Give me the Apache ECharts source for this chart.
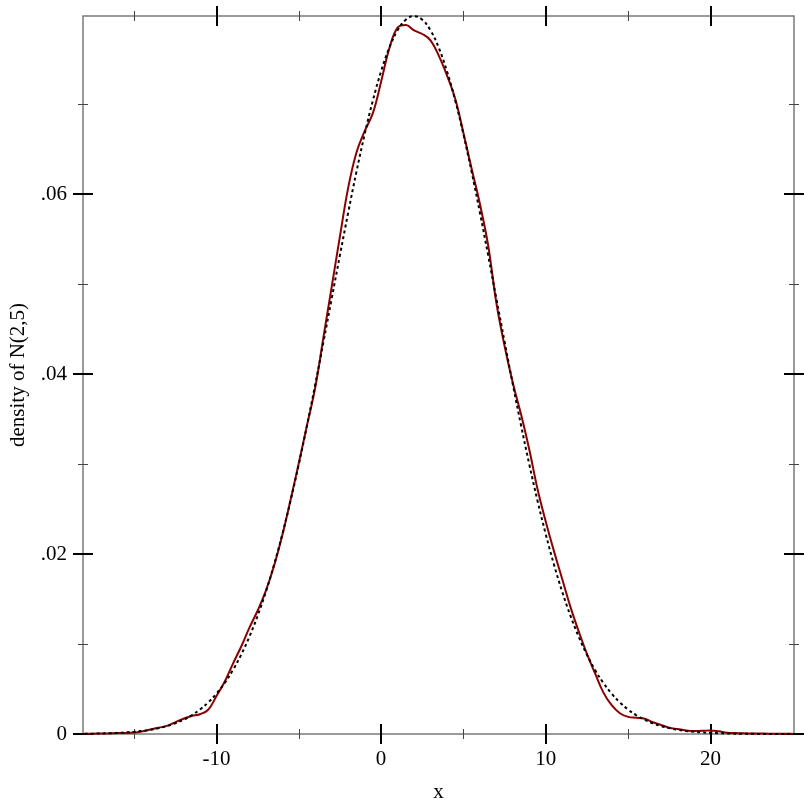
<!DOCTYPE html>
<html>
<head>
<meta charset="utf-8">
<script src="https://cdn.jsdelivr.net/npm/echarts@6/dist/echarts.min.js"></script>
<style>
html,body{margin:0;padding:0;background:#fff;}
#chart{width:812px;height:812px;}
</style>
</head>
<body>
<div id="chart"></div>
<script>
const xGrid = [-18,-17.5,-17,-16.5,-16,-15.5,-15,-14.5,-14,-13.5,-13,-12.5,-12,-11.5,-11,-10.5,-10,-9.5,-9,-8.5,-8,-7.5,-7,-6.5,-6,-5.5,-5,-4.5,-4,-3.5,-3,-2.5,-2,-1.5,-1,-0.5,0,0.5,1,1.5,2,2.5,3,3.5,4,4.5,5,5.5,6,6.5,7,7.5,8,8.5,9,9.5,10,10.5,11,11.5,12,12.5,13,13.5,14,14.5,15,15.5,16,16.5,17,17.5,18,18.5,19,19.5,20,20.5,21,21.5,22,22.5,23,23.5,24,24.5,25];

const normalDensity = [0.000027,0.000040,0.000058,0.000085,0.000122,0.000175,0.000246,0.000345,0.000477,0.000653,0.000886,0.001191,0.001583,0.002084,0.002717,0.003506,0.004479,0.005665,0.007095,0.008797,0.010798,0.013123,0.015790,0.018810,0.022184,0.025904,0.029946,0.034274,0.038837,0.043571,0.048394,0.053217,0.057938,0.062451,0.066645,0.070413,0.073654,0.076278,0.078209,0.079391,0.079789,0.079391,0.078209,0.076278,0.073654,0.070413,0.066645,0.062451,0.057938,0.053217,0.048394,0.043571,0.038837,0.034274,0.029946,0.025904,0.022184,0.018810,0.015790,0.013123,0.010798,0.008797,0.007095,0.005665,0.004479,0.003506,0.002717,0.002084,0.001583,0.001191,0.000886,0.000653,0.000477,0.000345,0.000246,0.000175,0.000122,0.000085,0.000058,0.000040,0.000027,0.000018,0.000012,0.0000077,0.000005,0.0000032,0.000002];

const kdeDensity = [0.00003,0.00004,0.00005,0.00007,0.0001,0.00012,0.00016,0.0003,0.0005,0.0007,0.0009,0.0013,0.0017,0.002,0.0022,0.0027,0.0042,0.0058,0.0078,0.0097,0.0118,0.0137,0.0159,0.0187,0.0221,0.026,0.0301,0.0343,0.0385,0.0441,0.0497,0.0553,0.0607,0.0646,0.0670,0.0690,0.0725,0.0762,0.0785,0.0788,0.0782,0.0778,0.0771,0.0754,0.0732,0.0706,0.0668,0.0628,0.0589,0.0543,0.0479,0.0431,0.0390,0.0355,0.0316,0.0272,0.0236,0.0203,0.0172,0.0141,0.0114,0.0089,0.0067,0.0046,0.0032,0.0023,0.0019,0.0018,0.0017,0.0013,0.0010,0.0007,0.00055,0.0004,0.00033,0.00035,0.0004,0.0003,0.00015,0.0001,0.00007,0.00006,0.00005,0.00004,0.00003,0.00003,0.00002];

const xMajorTicks = [-10, 0, 10, 20];
const xMajorLabels = ['-10', '0', '10', '20'];
const xMinorTicks = [-15, -5, 5, 15];
const yMajorTicks = [0, 0.02, 0.04, 0.06];
const yMajorLabels = ['0', '.02', '.04', '.06'];
const yMinorTicks = [0.01, 0.03, 0.05, 0.07];
const xMin = -18.1, xMax = 25.07, yMin = 0, yMax = 0.0798;

const FONT = '"Liberation Serif", "Times New Roman", serif';
const FS = 21;

function labelFor(ticks, labels) {
  return function (v) {
    const i = ticks.findIndex(t => Math.abs(t - v) < 1e-9);
    return i >= 0 ? labels[i] : '';
  };
}

function tickAxis(position, min, max, values, len, color, width) {
  return {
    type: 'value', position: position, min: min, max: max, offset: len / 2,
    axisLine: { show: false, onZero: false }, axisLabel: { show: false }, splitLine: { show: false },
    axisTick: { show: true, inside: true, length: len, customValues: values, lineStyle: { color: color, width: width } }
  };
}

const xAxes = [
  {
    type: 'value', position: 'bottom', min: xMin, max: xMax,
    axisLine: { show: false, onZero: false }, axisTick: { show: false }, splitLine: { show: false },
    axisLabel: { customValues: xMajorTicks, formatter: labelFor(xMajorTicks, xMajorLabels), margin: 15, fontFamily: FONT, fontSize: FS, color: '#000' },
    name: 'x', nameLocation: 'middle', nameGap: 48,
    nameTextStyle: { fontFamily: FONT, fontSize: FS, color: '#000' }
  },
  tickAxis('bottom', xMin, xMax, xMajorTicks, 20, '#000', 2),
  tickAxis('bottom', xMin, xMax, xMinorTicks, 10, '#444', 1),
  tickAxis('top', xMin, xMax, xMajorTicks, 20, '#000', 2),
  tickAxis('top', xMin, xMax, xMinorTicks, 10, '#444', 1)
];

const yAxes = [
  {
    type: 'value', position: 'left', min: yMin, max: yMax,
    axisLine: { show: false, onZero: false }, axisTick: { show: false }, splitLine: { show: false },
    axisLabel: { customValues: yMajorTicks, formatter: labelFor(yMajorTicks, yMajorLabels), margin: 16, fontFamily: FONT, fontSize: FS, color: '#000' },
    name: 'density of N(2,5)', nameLocation: 'middle', nameGap: 54,
    nameTextStyle: { fontFamily: FONT, fontSize: 21, color: '#000' }
  },
  tickAxis('left', yMin, yMax, yMajorTicks, 20, '#000', 2),
  tickAxis('left', yMin, yMax, yMinorTicks, 10, '#444', 1),
  tickAxis('right', yMin, yMax, yMajorTicks, 20, '#000', 2),
  tickAxis('right', yMin, yMax, yMinorTicks, 10, '#444', 1)
];

const kdePairs = xGrid.map((x, i) => [x, kdeDensity[i]]);
const normalPairs = xGrid.map((x, i) => [x, normalDensity[i]]);

const chart = echarts.init(document.getElementById('chart'), null, { renderer: 'canvas' });
chart.setOption({
  animation: false,
  backgroundColor: '#fff',
  grid: { left: 82, right: 18, top: 16, bottom: 78, show: true, borderColor: '#7a7a7a', borderWidth: 1.5, backgroundColor: 'transparent' },
  xAxis: xAxes,
  yAxis: yAxes,
  series: [
    {
      name: 'kde', type: 'line', data: kdePairs, xAxisIndex: 0, yAxisIndex: 0,
      showSymbol: false, smooth: 0.4, z: 2,
      lineStyle: { color: '#8b0000', width: 2 }
    },
    {
      name: 'N(2,5)', type: 'line', data: normalPairs, xAxisIndex: 0, yAxisIndex: 0,
      showSymbol: false, smooth: 0.4, z: 3,
      lineStyle: { color: '#000', width: 2, type: [3, 3] }
    }
  ]
});
</script>
</body>
</html>
